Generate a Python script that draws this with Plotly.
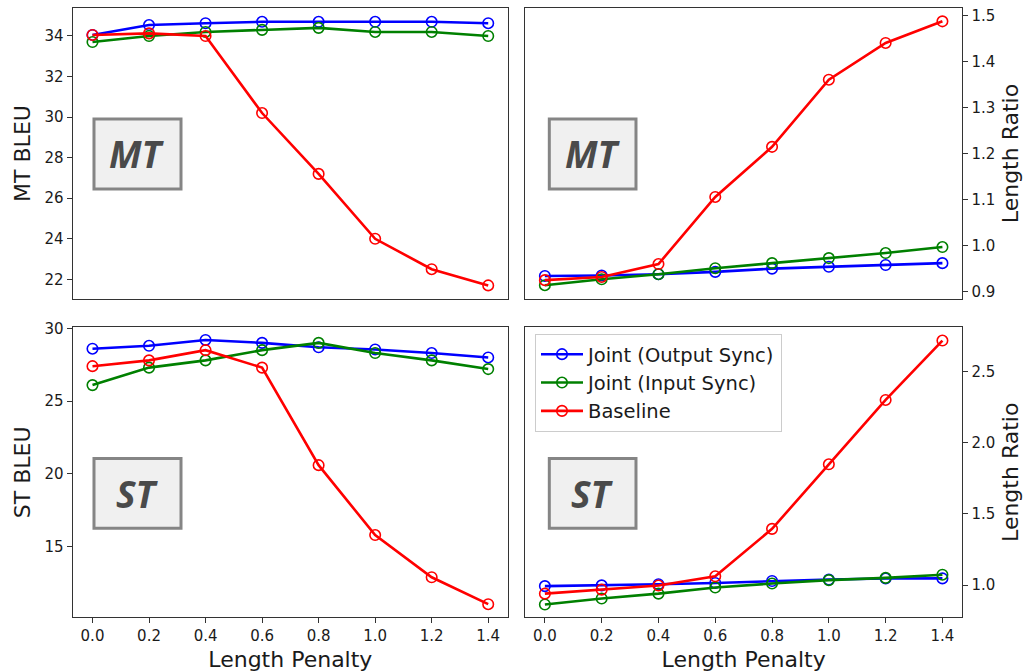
import plotly.graph_objects as go

# ---------------- data ----------------
length_penalty = [0.0, 0.2, 0.4, 0.6, 0.8, 1.0, 1.2, 1.4]
x_tick_labels = ["0.0", "0.2", "0.4", "0.6", "0.8", "1.0", "1.2", "1.4"]
series_names = ["Joint (Output Sync)", "Joint (Input Sync)", "Baseline"]

mt_bleu_output_sync = [34.05, 34.54, 34.63, 34.7, 34.7, 34.7, 34.7, 34.63]
mt_bleu_input_sync = [33.7, 34.0, 34.2, 34.3, 34.4, 34.2, 34.2, 34.0]
mt_bleu_baseline = [34.05, 34.13, 34.0, 30.2, 27.2, 24.0, 22.5, 21.7]

mt_ratio_output_sync = [0.934, 0.935, 0.938, 0.943, 0.950, 0.954, 0.958, 0.962]
mt_ratio_input_sync = [0.914, 0.927, 0.938, 0.951, 0.962, 0.973, 0.984, 0.997]
mt_ratio_baseline = [0.925, 0.932, 0.960, 1.106, 1.215, 1.361, 1.441, 1.488]

st_bleu_output_sync = [28.6, 28.8, 29.2, 29.0, 28.7, 28.55, 28.3, 28.0]
st_bleu_input_sync = [26.1, 27.3, 27.8, 28.5, 29.0, 28.3, 27.8, 27.2]
st_bleu_baseline = [27.4, 27.8, 28.5, 27.3, 20.6, 15.8, 12.9, 11.05]

st_ratio_output_sync = [0.993, 0.998, 1.006, 1.015, 1.029, 1.039, 1.046, 1.047]
st_ratio_input_sync = [0.864, 0.906, 0.940, 0.983, 1.011, 1.035, 1.051, 1.073]
st_ratio_baseline = [0.940, 0.968, 0.997, 1.062, 1.395, 1.848, 2.300, 2.717]

mt_bleu_ticks = [22, 24, 26, 28, 30, 32, 34]
mt_ratio_ticks = [0.9, 1.0, 1.1, 1.2, 1.3, 1.4, 1.5]
mt_ratio_tick_labels = ["0.9", "1.0", "1.1", "1.2", "1.3", "1.4", "1.5"]
st_bleu_ticks = [15, 20, 25, 30]
st_ratio_ticks = [1.0, 1.5, 2.0, 2.5]
st_ratio_tick_labels = ["1.0", "1.5", "2.0", "2.5"]

colors = ["#0000ff", "#008000", "#ff0000"]

# ---------------- figure ----------------
W, H = 1028, 672
FONT = "DejaVu Sans"


def px_x(p):
    return p / W


def px_y(p):
    return 1 - p / H


fig = go.Figure()

panels = [
    ("x", "y", [mt_bleu_output_sync, mt_bleu_input_sync, mt_bleu_baseline], False),
    ("x2", "y2", [mt_ratio_output_sync, mt_ratio_input_sync, mt_ratio_baseline], False),
    ("x3", "y3", [st_bleu_output_sync, st_bleu_input_sync, st_bleu_baseline], False),
    ("x4", "y4", [st_ratio_output_sync, st_ratio_input_sync, st_ratio_baseline], True),
]

for xa, ya, series, show in panels:
    for name, vals, col in zip(series_names, series, colors):
        fig.add_trace(go.Scatter(
            x=length_penalty, y=vals, xaxis=xa, yaxis=ya,
            mode="lines+markers", name=name, legendgroup=name,
            showlegend=show,
            line=dict(color=col, width=2.6),
            marker=dict(symbol="circle-open", size=10.5, color=col,
                        line=dict(width=1.6, color=col)),
        ))

left_dom = [px_x(72.7), px_x(508)]
right_dom = [px_x(525), px_x(962.3)]
top_dom = [px_y(299), px_y(8)]
bot_dom = [px_y(617.3), px_y(327.3)]

frame = dict(showline=True, linecolor="#333333", linewidth=1.3, mirror=True,
             showgrid=False, zeroline=False, automargin=False,
             tickfont=dict(family=FONT, size=15, color="#1a1a1a"),
             ticklen=5, tickwidth=1.2, tickcolor="#333333")

xr = [-0.07, 1.47]
title_font = dict(family=FONT, size=22, color="#1a1a1a")

fig.update_layout(
    width=W, height=H,
    margin=dict(l=0, r=0, t=0, b=0),
    paper_bgcolor="white", plot_bgcolor="white",
    font=dict(family=FONT, color="#1a1a1a"),
    xaxis=dict(domain=left_dom, range=xr, anchor="y", showticklabels=False,
               ticks="", tickvals=length_penalty, **frame),
    xaxis2=dict(domain=right_dom, range=xr, anchor="y2", showticklabels=False,
                ticks="", tickvals=length_penalty, **frame),
    xaxis3=dict(domain=left_dom, range=xr, anchor="y3", ticks="outside",
                tickvals=length_penalty, ticktext=x_tick_labels,
                title=dict(text="Length Penalty", font=title_font, standoff=8),
                **frame),
    xaxis4=dict(domain=right_dom, range=xr, anchor="y4", ticks="outside",
                tickvals=length_penalty, ticktext=x_tick_labels,
                title=dict(text="Length Penalty", font=title_font, standoff=8),
                **frame),
    yaxis=dict(domain=top_dom, range=[21.03, 35.38], anchor="x", ticks="outside",
               tickvals=mt_bleu_ticks,
               title=dict(text="MT BLEU", font=title_font, standoff=7), **frame),
    yaxis2=dict(domain=top_dom, range=[0.884, 1.517], anchor="x2", side="right",
                ticks="outside", tickvals=mt_ratio_ticks, ticktext=mt_ratio_tick_labels,
                title=dict(text="Length Ratio", font=title_font, standoff=8), **frame),
    yaxis3=dict(domain=bot_dom, range=[10.15, 30.07], anchor="x3", ticks="outside",
                tickvals=st_bleu_ticks,
                title=dict(text="ST BLEU", font=title_font, standoff=7), **frame),
    yaxis4=dict(domain=bot_dom, range=[0.774, 2.81], anchor="x4", side="right",
                ticks="outside", tickvals=st_ratio_ticks, ticktext=st_ratio_tick_labels,
                title=dict(text="Length Ratio", font=title_font, standoff=8), **frame),
    legend=dict(x=px_x(535), y=px_y(334), xanchor="left", yanchor="top",
                bgcolor="rgba(255,255,255,0.9)", bordercolor="#cccccc", borderwidth=1,
                font=dict(family=FONT, size=19.5, color="#1a1a1a"),
                tracegroupgap=0, itemwidth=42),
)

# label boxes (MT / ST)
boxes = [
    ("x", "y", "MT", 0.0489, 0.2488, 0.378, 0.6186),
    ("x2", "y2", "MT", 0.0556, 0.2538, 0.378, 0.6186),
    ("x3", "y3", "ST", 0.0489, 0.2488, 0.307, 0.548),
    ("x4", "y4", "ST", 0.0556, 0.2538, 0.307, 0.548),
]
for xa, ya, label, x0, x1, y0, y1 in boxes:
    fig.add_shape(type="rect", xref=f"{xa} domain", yref=f"{ya} domain",
                  x0=x0, x1=x1, y0=y0, y1=y1,
                  line=dict(color="#858585", width=3), fillcolor="#f0f0f0",
                  layer="below")
    fig.add_annotation(xref=f"{xa} domain", yref=f"{ya} domain",
                       x=(x0 + x1) / 2, y=(y0 + y1) / 2, showarrow=False,
                       xanchor="center", yanchor="middle",
                       text=f"<b><i>{label}</i></b>",
                       font=dict(family="Open Sans", size=37, color="#4a4a4a"))

fig.write_html("out.html")
